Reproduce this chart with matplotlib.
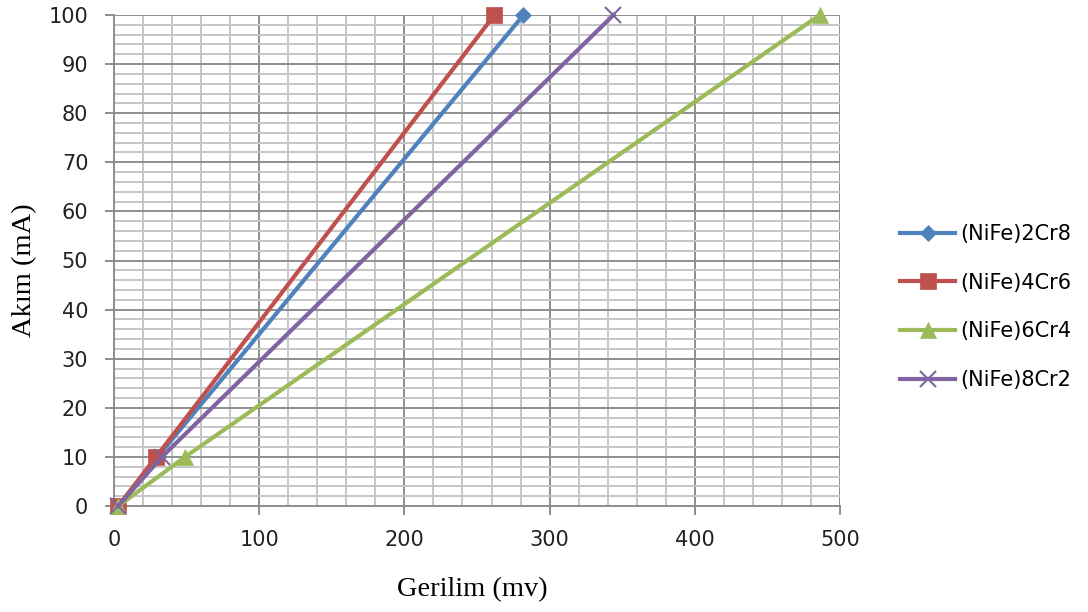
import matplotlib
matplotlib.use("Agg")
import matplotlib.pyplot as plt
from matplotlib.ticker import MultipleLocator

series_names = ["(NiFe)2Cr8", "(NiFe)4Cr6", "(NiFe)6Cr4", "(NiFe)8Cr2"]
current_ma = [0, 10, 100]
voltage_2cr8 = [3, 30, 282]
voltage_4cr6 = [3, 29, 262]
voltage_6cr4 = [3, 49, 486]
voltage_8cr2 = [3, 33, 344]
x_ticks = [0, 100, 200, 300, 400, 500]
y_ticks = [0, 10, 20, 30, 40, 50, 60, 70, 80, 90, 100]

colors = ["#4F81BD", "#C0504D", "#9BBB59", "#8064A2"]
markers = ["D", "s", "^", "x"]
msizes = [8, 11, 11, 12]

fig = plt.figure(figsize=(10.88, 6.12), dpi=100)
ax = fig.add_axes([114/1088, 1-506/612, (840-114)/1088, (506-15)/612])

for name, xs, c, m, ms in zip(series_names,
                              [voltage_2cr8, voltage_4cr6, voltage_6cr4, voltage_8cr2],
                              colors, markers, msizes):
    ax.plot(xs, current_ma, color=c, lw=3.0, marker=m, markersize=ms,
            markeredgewidth=1.5 if m == "x" else 0.5, markeredgecolor=c,
            label=name, clip_on=False, zorder=3)

ax.set_xlim(0, 500)
ax.set_ylim(0, 100)
ax.set_xticks(x_ticks)
ax.set_yticks(y_ticks)
ax.xaxis.set_minor_locator(MultipleLocator(20))
ax.yaxis.set_minor_locator(MultipleLocator(2))
ax.grid(which="minor", color="#C6C6C6", lw=1.4, zorder=0)
ax.grid(which="major", color="#8E8E8E", lw=1.4, zorder=1)
ax.set_axisbelow(True)
for s in ["top", "right"]:
    ax.spines[s].set_visible(False)
for s in ["left", "bottom"]:
    ax.spines[s].set_color("#8E8E8E")
    ax.spines[s].set_linewidth(1.4)
ax.tick_params(which="major", direction="out", length=6.5, width=1.4, color="#8E8E8E",
               labelsize=15)
ax.tick_params(axis="x", pad=11)
ax.tick_params(axis="y", pad=12)
ax.tick_params(which="minor", length=0)
for lab in ax.get_xticklabels() + ax.get_yticklabels():
    lab.set_family("DejaVu Sans")
    lab.set_color("#222222")

fig.text(472/1088, 1-590/612, "Gerilim (mv)", family="Liberation Serif", fontsize=20.5,
         ha="center", va="center")
fig.text(25/1088, 1-270/612, "Akım (mA)", family="Liberation Serif", fontsize=20.5,
         ha="center", va="center", rotation=90)

leg = fig.legend(loc="upper left", bbox_to_anchor=(900/1088, 1-224/612), frameon=False,
                 prop={"family": "DejaVu Sans", "size": 15}, handlelength=2.65,
                 labelspacing=1.38, handletextpad=0.25, borderaxespad=0, borderpad=0)

fig.savefig("out.png", dpi=100)
